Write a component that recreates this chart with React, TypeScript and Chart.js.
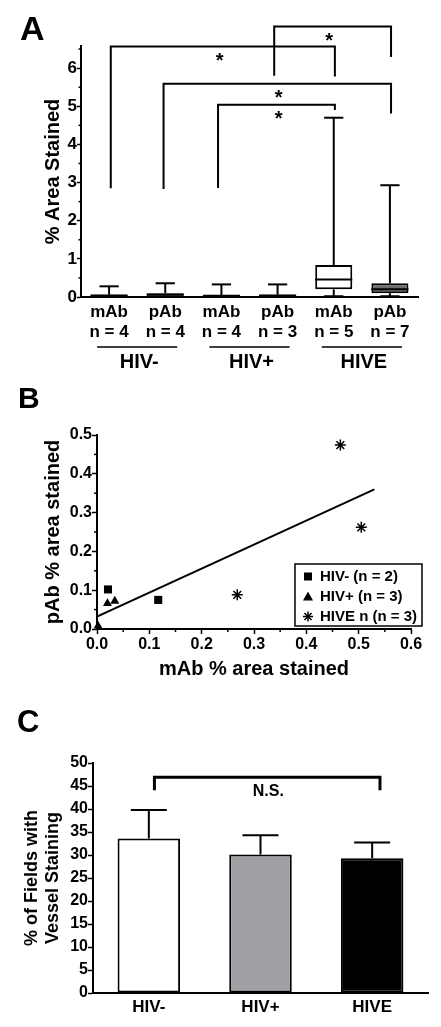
import React, { useEffect, useRef } from "react";
import { Chart, registerables } from "chart.js";

Chart.register(...registerables);

const FONT = "'Liberation Sans', Arial, Helvetica, sans-serif";
Chart.defaults.font.family = FONT;
Chart.defaults.font.weight = "bold";
Chart.defaults.color = "#000";

// ---------- Panel A: box plots ----------
const aCategories = [
  ["mAb", "n = 4"],
  ["pAb", "n = 4"],
  ["mAb", "n = 4"],
  ["pAb", "n = 3"],
  ["mAb", "n = 5"],
  ["pAb", "n = 7"],
];
const aMin = [0.0, 0.0, 0.0, 0.0, 0.02, 0.02];
const aQ1 = [0.02, 0.03, 0.02, 0.02, 0.2, 0.1];
const aMedian = [0.04, 0.06, 0.03, 0.04, 0.46, 0.2];
const aQ3 = [0.06, 0.1, 0.05, 0.06, 0.84, 0.36];
const aMax = [0.28, 0.36, 0.33, 0.33, 4.7, 2.93];
const aFill = ["#ffffff", "#6e6e6e", "#ffffff", "#6e6e6e", "#ffffff", "#6e6e6e"];
const aGroups = ["HIV-", "HIV+", "HIVE"];
const aGroupFirst = [0, 2, 4];
const aGroupLast = [1, 3, 5];
const aMinorTicks = [0.5, 1.5, 2.5, 3.5, 4.5, 5.5, 6.5];
// significance brackets (x in category index units, y in data units)
const aBrFrom = [0.03, 2.94, 0.97, 1.94];
const aBrTo = [4.02, 5.02, 5.02, 4.02];
const aBrTop = [6.57, 7.09, 5.59, 5.04];
const aBrLeftEnd = [2.85, 5.8, 2.83, 2.86];
const aBrRightEnd = [5.78, 6.29, 4.81, 4.9];
const aStarX = [1.97, 3.92, 3.02, 3.02];
const aStarY = [6.33, 6.86, 5.37, 4.82];

// ---------- Panel B: scatter ----------
const bNegX = [0.021, 0.117];
const bNegY = [0.102, 0.075];
const bPosX = [0.002, 0.02, 0.034];
const bPosY = [0.008, 0.066, 0.072];
const bHiveX = [0.465, 0.505, 0.268];
const bHiveY = [0.474, 0.262, 0.088];
const bFitX = [0, 0.53];
const bFitY = [0.032, 0.36];
const bLegend = ["HIV- (n = 2)", "HIV+ (n = 3)", "HIVE n (n = 3)"];
const bMinorX = [0.05, 0.15, 0.25, 0.35, 0.45, 0.55];
const bMinorY = [0.05, 0.15, 0.25, 0.35, 0.45];

// ---------- Panel C: bars ----------
const cCategories = ["HIV-", "HIV+", "HIVE"];
const cMean = [33.6, 30.1, 29.3];
const cSem = [6.2, 4.2, 3.4];
const cFill = ["#ffffff", "#a0a0a4", "#000000"];
const cBracketFrom = 0.05;
const cBracketTo = 2.07;
const cBracketTop = 46.9;
const cBracketLeg = 44.1;
const cNsText = "N.S.";
const cNsX = 1.07;
const cNsY = 43.7;

function line(ctx: CanvasRenderingContext2D, x1: number, y1: number, x2: number, y2: number) {
  ctx.beginPath();
  ctx.moveTo(x1, y1);
  ctx.lineTo(x2, y2);
  ctx.stroke();
}

const aPlugin = {
  id: "aDecor",
  afterDatasetsDraw(chart: any) {
    const { ctx, scales } = chart;
    const x = scales.x;
    const y = scales.y;
    const meta = chart.getDatasetMeta(0);
    ctx.save();
    ctx.strokeStyle = "#000";
    ctx.lineWidth = 2;
    aMedian.forEach((m, i) => {
      const cx = x.getPixelForValue(i);
      const bw = meta.data[i].width;
      const cap = bw * 0.52;
      line(ctx, cx, y.getPixelForValue(aQ3[i]), cx, y.getPixelForValue(aMax[i]));
      line(ctx, cx - cap / 2, y.getPixelForValue(aMax[i]), cx + cap / 2, y.getPixelForValue(aMax[i]));
      line(ctx, cx, y.getPixelForValue(aQ1[i]), cx, y.getPixelForValue(aMin[i]));
      line(ctx, cx - cap / 2, y.getPixelForValue(aMin[i]), cx + cap / 2, y.getPixelForValue(aMin[i]));
      line(ctx, cx - bw / 2, y.getPixelForValue(m), cx + bw / 2, y.getPixelForValue(m));
    });
    ctx.restore();
  },
  afterDraw(chart: any) {
    const { ctx, scales, chartArea } = chart;
    const x = scales.x;
    const y = scales.y;
    ctx.save();
    ctx.strokeStyle = "#000";
    ctx.fillStyle = "#000";
    // minor ticks
    ctx.lineWidth = 1.5;
    aMinorTicks.forEach((v) => {
      const py = y.getPixelForValue(v);
      line(ctx, chartArea.left - 2.5, py, chartArea.left, py);
    });
    // brackets
    ctx.lineWidth = 2;
    ctx.lineJoin = "miter";
    aBrFrom.forEach((f, i) => {
      const xl = x.getPixelForValue(f);
      const xr = x.getPixelForValue(aBrTo[i]);
      const yt = y.getPixelForValue(aBrTop[i]);
      ctx.beginPath();
      ctx.moveTo(xl, y.getPixelForValue(aBrLeftEnd[i]));
      ctx.lineTo(xl, yt);
      ctx.lineTo(xr, yt);
      ctx.lineTo(xr, y.getPixelForValue(aBrRightEnd[i]));
      ctx.stroke();
      ctx.font = `bold 20px ${FONT}`;
      ctx.textAlign = "center";
      ctx.textBaseline = "alphabetic";
      ctx.fillText("*", x.getPixelForValue(aStarX[i]), y.getPixelForValue(aStarY[i]) + 0.58 * 20);
    });
    // group lines and labels
    ctx.lineWidth = 1.5;
    aGroups.forEach((g, i) => {
      const x0 = x.getPixelForValue(aGroupFirst[i]);
      const x1 = x.getPixelForValue(aGroupLast[i]);
      const ly = chartArea.bottom + 50;
      line(ctx, x0 - 12, ly, x1 + 12, ly);
      ctx.font = `bold 20px ${FONT}`;
      ctx.textAlign = "center";
      ctx.textBaseline = "middle";
      ctx.fillText(g, (x0 + x1) / 2 + 2, chartArea.bottom + 65);
    });
    ctx.restore();
  },
};

const bPlugin = {
  id: "bDecor",
  afterDraw(chart: any) {
    const { ctx, scales, chartArea } = chart;
    const x = scales.x;
    const y = scales.y;
    ctx.save();
    ctx.strokeStyle = "#000";
    ctx.fillStyle = "#000";
    ctx.lineWidth = 1.5;
    bMinorX.forEach((v) => {
      const px = x.getPixelForValue(v);
      line(ctx, px, chartArea.bottom, px, chartArea.bottom + 3);
    });
    bMinorY.forEach((v) => {
      const py = y.getPixelForValue(v);
      line(ctx, chartArea.left - 3, py, chartArea.left, py);
    });
    // legend box
    const L = chartArea.right - 116;
    const R = chartArea.right + 11;
    const T = chartArea.bottom - 65;
    const B = chartArea.bottom - 3;
    ctx.fillStyle = "#fff";
    ctx.fillRect(L, T, R - L, B - T);
    ctx.lineWidth = 1.5;
    ctx.strokeRect(L, T, R - L, B - T);
    ctx.fillStyle = "#000";
    const rows = [B - 49.5, B - 29.5, B - 9.5];
    const mx = L + 13;
    // square
    ctx.fillRect(mx - 4, rows[0] - 4, 8, 8);
    // triangle
    ctx.beginPath();
    ctx.moveTo(mx, rows[1] - 5);
    ctx.lineTo(mx + 5, rows[1] + 4);
    ctx.lineTo(mx - 5, rows[1] + 4);
    ctx.closePath();
    ctx.fill();
    // star
    ctx.lineWidth = 1.5;
    const r = 5;
    for (let k = 0; k < 4; k++) {
      const a = (k * Math.PI) / 4;
      line(ctx, mx - r * Math.cos(a), rows[2] - r * Math.sin(a), mx + r * Math.cos(a), rows[2] + r * Math.sin(a));
    }
    ctx.font = `bold 15px ${FONT}`;
    ctx.textAlign = "left";
    ctx.textBaseline = "middle";
    bLegend.forEach((t, i) => ctx.fillText(t, L + 25, rows[i]));
    ctx.restore();
  },
};

const cPlugin = {
  id: "cDecor",
  afterDatasetsDraw(chart: any) {
    const { ctx, scales } = chart;
    const x = scales.x;
    const y = scales.y;
    ctx.save();
    ctx.strokeStyle = "#000";
    ctx.lineWidth = 2;
    cMean.forEach((m, i) => {
      const cx = x.getPixelForValue(i);
      const top = y.getPixelForValue(m + cSem[i]);
      line(ctx, cx, y.getPixelForValue(m), cx, top);
      line(ctx, cx - 18, top, cx + 18, top);
    });
    // bracket
    ctx.lineWidth = 3;
    ctx.lineJoin = "miter";
    const xl = x.getPixelForValue(cBracketFrom);
    const xr = x.getPixelForValue(cBracketTo);
    const yt = y.getPixelForValue(cBracketTop);
    const yl = y.getPixelForValue(cBracketLeg);
    ctx.beginPath();
    ctx.moveTo(xl, yl);
    ctx.lineTo(xl, yt);
    ctx.lineTo(xr, yt);
    ctx.lineTo(xr, yl);
    ctx.stroke();
    ctx.fillStyle = "#000";
    ctx.font = `bold 16px ${FONT}`;
    ctx.textAlign = "center";
    ctx.textBaseline = "middle";
    ctx.fillText(cNsText, x.getPixelForValue(cNsX), y.getPixelForValue(cNsY));
    ctx.restore();
  },
};

export default function App() {
  const refA = useRef<HTMLCanvasElement>(null);
  const refB = useRef<HTMLCanvasElement>(null);
  const refC = useRef<HTMLCanvasElement>(null);

  useEffect(() => {
    const charts: Chart[] = [];

    charts.push(
      new Chart(refA.current as HTMLCanvasElement, {
        type: "bar",
        data: {
          labels: aCategories as any,
          datasets: [
            {
              data: aQ1.map((q, i) => [q, aQ3[i]]) as any,
              backgroundColor: aFill,
              borderColor: "#000",
              borderWidth: 2,
              borderSkipped: false,
              barPercentage: 0.66,
              categoryPercentage: 1,
            },
          ],
        },
        options: {
          responsive: false,
          animation: false,
          events: [],
          layout: { padding: { left: 0, right: 23, top: 46, bottom: 0 } },
          plugins: { legend: { display: false }, tooltip: { enabled: false } },
          scales: {
            x: {
              grid: { display: false, drawTicks: false },
              border: { display: true, color: "#000", width: 2 },
              ticks: {
                color: "#000",
                font: { size: 17, weight: "bold", lineHeight: 20 / 17 },
                padding: 5,
                maxRotation: 0,
                autoSkip: false,
              },
              afterFit: (s: any) => {
                s.height = 83;
              },
            },
            y: {
              min: 0,
              max: 6.58,
              grid: { drawOnChartArea: false, drawTicks: true, tickLength: 4, tickColor: "#000", tickWidth: 1.5 },
              border: { display: true, color: "#000", width: 2 },
              ticks: {
                stepSize: 1,
                includeBounds: false,
                padding: 0,
                color: "#000",
                font: { size: 17, weight: "bold" },
              },
              title: {
                display: true,
                text: "% Area Stained",
                color: "#000",
                font: { size: 20, weight: "bold" },
                padding: { top: 41, bottom: 0 },
              },
              afterFit: (s: any) => {
                s.width = 81;
              },
            },
          },
        } as any,
        plugins: [aPlugin],
      })
    );

    charts.push(
      new Chart(refB.current as HTMLCanvasElement, {
        type: "scatter",
        data: {
          datasets: [
            {
              label: "fit",
              data: bFitX.map((v, i) => ({ x: v, y: bFitY[i] })),
              showLine: true,
              borderColor: "#000",
              borderWidth: 2,
              pointRadius: 0,
            },
            {
              label: bLegend[0],
              data: bNegX.map((v, i) => ({ x: v, y: bNegY[i] })),
              pointStyle: "rect",
              pointRadius: 5.7,
              backgroundColor: "#000",
              borderWidth: 0,
              clip: false,
            },
            {
              label: bLegend[1],
              data: bPosX.map((v, i) => ({ x: v, y: bPosY[i] })),
              pointStyle: "triangle",
              pointRadius: 5.2,
              backgroundColor: "#000",
              borderWidth: 0,
              clip: false,
            },
            {
              label: bLegend[2],
              data: bHiveX.map((v, i) => ({ x: v, y: bHiveY[i] })),
              pointStyle: "star",
              pointRadius: 5.5,
              borderColor: "#000",
              backgroundColor: "#000",
              borderWidth: 1.5,
              clip: false,
            },
          ],
        },
        options: {
          responsive: false,
          animation: false,
          events: [],
          layout: { padding: { left: 0, right: 30, top: 55, bottom: 0 } },
          plugins: { legend: { display: false }, tooltip: { enabled: false } },
          scales: {
            x: {
              type: "linear",
              min: 0,
              max: 0.6,
              grid: { drawOnChartArea: false, drawTicks: true, tickLength: 5, tickColor: "#000", tickWidth: 1.5 },
              border: { display: true, color: "#000", width: 2 },
              ticks: {
                stepSize: 0.1,
                padding: 1,
                color: "#000",
                font: { size: 16, weight: "bold" },
                callback: (v: any) => Number(v).toFixed(1),
              },
              title: {
                display: true,
                text: "mAb % area stained",
                color: "#000",
                font: { size: 20, weight: "bold" },
                padding: { top: 0, bottom: 9 },
              },
              afterFit: (s: any) => {
                s.height = 61;
              },
            },
            y: {
              type: "linear",
              min: 0,
              max: 0.5,
              grid: { drawOnChartArea: false, drawTicks: true, tickLength: 5, tickColor: "#000", tickWidth: 1.5 },
              border: { display: true, color: "#000", width: 2 },
              ticks: {
                stepSize: 0.1,
                padding: 0,
                color: "#000",
                font: { size: 16, weight: "bold" },
                callback: (v: any) => Number(v).toFixed(1),
              },
              title: {
                display: true,
                text: "pAb % area stained",
                color: "#000",
                font: { size: 20, weight: "bold" },
                padding: { top: 41, bottom: 0 },
              },
              afterFit: (s: any) => {
                s.width = 97;
              },
            },
          },
        } as any,
        plugins: [bPlugin],
      })
    );

    charts.push(
      new Chart(refC.current as HTMLCanvasElement, {
        type: "bar",
        data: {
          labels: cCategories,
          datasets: [
            {
              data: cMean,
              backgroundColor: cFill,
              borderColor: "#000",
              borderWidth: 2,
              borderSkipped: false,
              barPercentage: 0.56,
              categoryPercentage: 1,
            },
          ],
        },
        options: {
          responsive: false,
          animation: false,
          events: [],
          layout: { padding: { left: 0, right: 13, top: 73, bottom: 0 } },
          plugins: { legend: { display: false }, tooltip: { enabled: false } },
          scales: {
            x: {
              grid: { display: false, drawTicks: false },
              border: { display: true, color: "#000", width: 2 },
              ticks: {
                color: "#000",
                font: { size: 17, weight: "bold" },
                padding: 4,
                maxRotation: 0,
                autoSkip: false,
              },
              afterFit: (s: any) => {
                s.height = 34;
              },
            },
            y: {
              min: 0,
              max: 50,
              grid: { drawOnChartArea: false, drawTicks: true, tickLength: 5, tickColor: "#000", tickWidth: 1.5 },
              border: { display: true, color: "#000", width: 2 },
              ticks: {
                stepSize: 5,
                padding: 0,
                color: "#000",
                font: { size: 16, weight: "bold" },
              },
              title: {
                display: true,
                text: ["% of Fields with", "Vessel Staining"],
                color: "#000",
                font: { size: 18, weight: "bold", lineHeight: 21 / 18 },
                padding: { top: 22, bottom: 0 },
              },
              afterFit: (s: any) => {
                s.width = 93;
              },
            },
          },
        } as any,
        plugins: [cPlugin],
      })
    );

    return () => {
      charts.forEach((c) => c.destroy());
    };
  }, []);

  const letter = (txt: string, left: number, top: number, size: number) => (
    <div
      style={{
        position: "absolute",
        left,
        top,
        fontFamily: FONT,
        fontWeight: "bold",
        fontSize: size,
        lineHeight: `${size}px`,
        color: "#000",
      }}
    >
      {txt}
    </div>
  );

  return (
    <div
      style={{
        position: "absolute",
        left: 0,
        top: 0,
        width: 441,
        height: 1027,
        background: "#fff",
        overflow: "hidden",
      }}
    >
      <canvas ref={refA} width={441} height={380} style={{ position: "absolute", left: 0, top: 0, width: 441, height: 380 }} />
      <canvas ref={refB} width={441} height={310} style={{ position: "absolute", left: 0, top: 380, width: 441, height: 310 }} />
      <canvas ref={refC} width={441} height={337} style={{ position: "absolute", left: 0, top: 690, width: 441, height: 337 }} />
      {letter("A", 20, 11, 34)}
      {letter("B", 18, 383, 30)}
      {letter("C", 17, 706, 31)}
    </div>
  );
}
